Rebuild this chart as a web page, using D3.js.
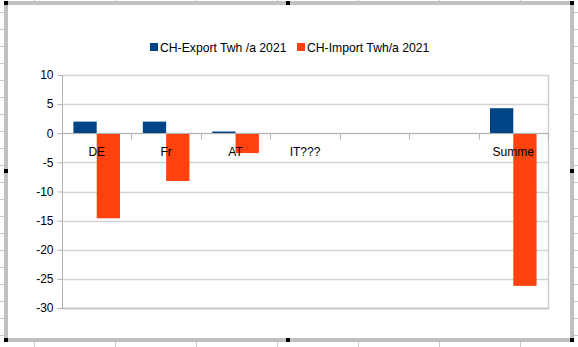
<!DOCTYPE html>
<html>
<head>
<meta charset="utf-8">
<script src="https://cdn.jsdelivr.net/npm/d3@7"></script>
<style>
  html, body { margin: 0; padding: 0; background: #fff; }
  svg { display: block; font-family: "Liberation Sans", Arial, sans-serif; }
</style>
</head>
<body>
<svg id="chart" width="578" height="347"></svg>
<script>
// ---- data ----
const categories = ["DE", "Fr", "AT", "IT???", "", " ", "Summe"];
const seriesNames = ["CH-Export Twh /a 2021", "CH-Import Twh/a 2021"];
const exportValues = [2.0, 2.0, 0.3, null, null, null, 4.3];
const importValues = [-14.6, -8.2, -3.4, null, null, null, -26.2];
const yTicks = [10, 5, 0, -5, -10, -15, -20, -25, -30];
const colors = ["#004586", "#ff420e"];

const svg = d3.select("#chart");
const W = 578, H = 347;

// ---- spreadsheet backdrop (decoration) ----
const deco = svg.append("g");
const rowYs = d3.range(12.5, 340, 17);
deco.selectAll("line.rl").data(rowYs).join("line")
  .attr("x1", 0).attr("x2", 4).attr("y1", d => d).attr("y2", d => d)
  .attr("stroke", "#c8c8c8").attr("stroke-width", 1);
deco.selectAll("line.rr").data(rowYs).join("line")
  .attr("x1", 574).attr("x2", 578).attr("y1", d => d).attr("y2", d => d)
  .attr("stroke", "#c8c8c8").attr("stroke-width", 1);
const colXs = [34.5, 115.5, 196.5, 277.5, 358.5, 439.5, 520.5];
deco.selectAll("line.cb").data(colXs).join("line")
  .attr("x1", d => d).attr("x2", d => d).attr("y1", 342).attr("y2", 347)
  .attr("stroke", "#c8c8c8");
deco.selectAll("line.ct").data(colXs).join("line")
  .attr("x1", d => d).attr("x2", d => d).attr("y1", 0).attr("y2", 1)
  .attr("stroke", "#c8c8c8");
// selection frame
deco.append("rect").attr("x", 4).attr("y", 1).attr("width", 570).attr("height", 4).attr("fill", "#c0c0c0");
deco.append("rect").attr("x", 4).attr("y", 338).attr("width", 570).attr("height", 4).attr("fill", "#c0c0c0");
deco.append("rect").attr("x", 4).attr("y", 1).attr("width", 4).attr("height", 341).attr("fill", "#c0c0c0");
deco.append("rect").attr("x", 570).attr("y", 1).attr("width", 4).attr("height", 341).attr("fill", "#c0c0c0");
const handles = [[4,1],[286,1],[570,1],[4,169],[570,169],[4,338],[286,338],[570,338]];
deco.selectAll("rect.h").data(handles).join("rect")
  .attr("x", d => d[0]).attr("y", d => d[1]).attr("width", 4).attr("height", 4).attr("fill", "#000");

// ---- chart ----
const plot = { left: 62, right: 548, top: 75, bottom: 308 };

const x = d3.scaleBand().domain(categories).range([plot.left, plot.right]).paddingInner(0).paddingOuter(0);
const xs = d3.scaleBand().domain(seriesNames).range([0, x.bandwidth()]).paddingInner(0).paddingOuter(0.49);
const y = d3.scaleLinear().domain([-30, 10]).range([plot.bottom, plot.top]);

// gridlines
svg.append("g").selectAll("line").data(yTicks).join("line")
  .attr("x1", plot.left).attr("x2", plot.right)
  .attr("y1", d => Math.round(y(d)) + 0.5).attr("y2", d => Math.round(y(d)) + 0.5)
  .attr("stroke", "#d4d4d4").attr("stroke-width", 1.3);

// plot right & bottom border
svg.append("line").attr("x1", plot.right + 0.5).attr("x2", plot.right + 0.5)
  .attr("y1", plot.top).attr("y2", plot.bottom + 1).attr("stroke", "#c8c8c8").attr("stroke-width", 1.3);
svg.append("line").attr("x1", plot.left).attr("x2", plot.right + 1)
  .attr("y1", Math.round(y(-30)) + 0.5).attr("y2", Math.round(y(-30)) + 0.5)
  .attr("stroke", "#c0c0c0").attr("stroke-width", 1.3);

// y axis
const yAxis = d3.axisLeft(y).tickValues(yTicks).tickSize(5).tickPadding(4).tickFormat(d3.format("d"));
const gy = svg.append("g").attr("transform", `translate(${plot.left + 0.5},0)`).call(yAxis);
gy.select(".domain").attr("stroke", "#b3b3b3").attr("d", `M0,${plot.top}V${plot.bottom + 1}`);
gy.selectAll(".tick line").attr("stroke", "#b3b3b3");
gy.selectAll(".tick text").attr("font-size", 12).attr("fill", "#000")
  .attr("font-family", "Liberation Sans, Arial, sans-serif").text(d => d < 0 ? "-" + Math.abs(d) : d);

// bars
const data = categories.map((c, i) => ({ cat: c, vals: [exportValues[i], importValues[i]] }));
const groups = svg.append("g").selectAll("g").data(data).join("g")
  .attr("transform", d => `translate(${x(d.cat)},0)`);
groups.selectAll("rect").data(d => d.vals.map((v, j) => ({ v, s: seriesNames[j], j })).filter(e => e.v != null))
  .join("rect")
  .attr("x", e => xs(e.s))
  .attr("width", xs.bandwidth())
  .attr("y", e => y(Math.max(0, e.v)))
  .attr("height", e => Math.abs(y(e.v) - y(0)))
  .attr("fill", e => colors[e.j]);

// x axis at zero
const y0 = Math.round(y(0)) + 0.5;
const bounds = categories.map(c => x(c) + x.bandwidth());
svg.append("line").attr("x1", plot.left).attr("x2", plot.right)
  .attr("y1", y0).attr("y2", y0).attr("stroke", "#b3b3b3");
svg.append("g").selectAll("line").data(bounds).join("line")
  .attr("x1", d => Math.round(d) + 0.5).attr("x2", d => Math.round(d) + 0.5)
  .attr("y1", y0).attr("y2", y0 + 6).attr("stroke", "#b3b3b3");
svg.append("g").selectAll("text").data(categories).join("text")
  .attr("x", d => x(d) + x.bandwidth() / 2)
  .attr("y", y0 + 22)
  .attr("text-anchor", "middle").attr("font-size", 12).attr("fill", "#000")
  .text(d => d.trim());

// legend
const legendItems = [
  { name: seriesNames[0], color: colors[0], x: 150 },
  { name: seriesNames[1], color: colors[1], x: 297 }
];
const lg = svg.append("g").selectAll("g").data(legendItems).join("g")
  .attr("transform", d => `translate(${d.x},0)`);
lg.append("rect").attr("x", 0).attr("y", 43).attr("width", 8).attr("height", 8).attr("fill", d => d.color);
lg.append("text").attr("x", 10).attr("y", 51.5).attr("font-size", 12.2).attr("fill", "#000").text(d => d.name);
</script>
</body>
</html>
